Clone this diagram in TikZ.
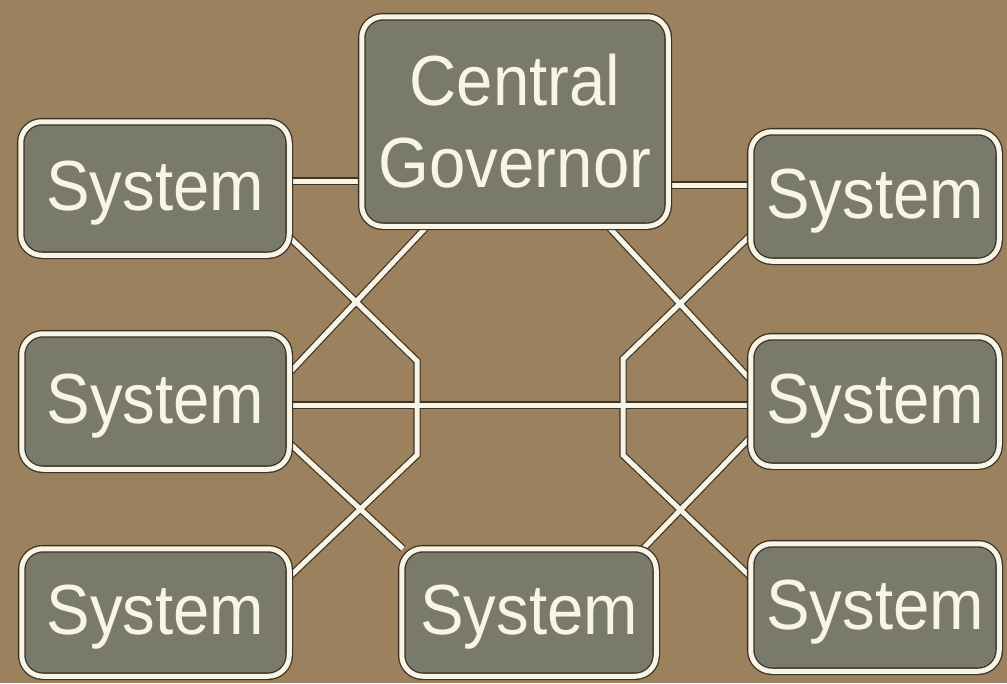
\documentclass[tikz,border=0pt]{standalone}
\usepackage{fontspec}
\setmainfont{Liberation Sans}[FakeStretch=0.92]
\definecolor{bgc}{HTML}{9C815E}
\definecolor{boxc}{HTML}{797A6B}
\definecolor{creamc}{HTML}{F8F4E6}
\definecolor{edgec}{HTML}{3B3325}
\pgfdeclarelayer{bgl}
\pgfdeclarelayer{lines}
\pgfsetlayers{bgl,lines,main}
\newcommand\myconns[1]{%
  \draw[#1] (tl.east |- 0,181) -- (cg.west |- 0,181);
  \draw[#1] (cg.east |- 0,185) -- (tr.west |- 0,185);
  \draw[#1] (ml.east |- 0,405) -- (mr.west |- 0,405);
  \draw[#1] (cg.south -| 427,0) -- (ml.east |- 0,373);
  \draw[#1] (tl.east |- 0,237) -- (l1) -- (l2) -- (bl.east |- 0,577);
  \draw[#1] (ml.east |- 0,443) -- (bc.north -| 403,0);
  \draw[#1] (cg.south -| 608,0) -- (mr.west |- 0,380);
  \draw[#1] (tr.west |- 0,235) -- (r1) -- (r2) -- (br.west |- 0,577);
  \draw[#1] (mr.west |- 0,437) -- (bc.north -| 643,0);
}
\begin{document}
\begin{tikzpicture}[x=1pt,y=-1pt,
  boxbase/.style={rounded corners=21pt, fill=boxc, draw=edgec, line width=1.3pt,
    double=creamc, double distance=5pt, inner sep=0pt, outer sep=0pt,
    text=creamc, font=\fontsize{71}{82}\selectfont, align=center},
  sysbox/.style={boxbase, text height=52pt, text depth=8pt},
  edgepass/.style={draw=edgec, line width=7.4pt, line join=miter},
  whitepass/.style={draw=creamc, line width=5pt, line join=miter}]
\useasboundingbox (0,0) rectangle (1007,683);
\begin{pgfonlayer}{bgl}
  \fill[bgc] (0,0) rectangle (1007,683);
\end{pgfonlayer}
\node[boxbase, minimum width=306.5pt, minimum height=209.5pt] (cg) at (515,121.5) {Central\\Governor};
\node[sysbox, minimum width=268.5pt, minimum height=133.5pt] (tl) at (155,188.5) {System};
\node[sysbox, minimum width=267.5pt, minimum height=135.5pt] (ml) at (155.5,401.5) {System};
\node[sysbox, minimum width=267.5pt, minimum height=127.5pt] (bl) at (155.5,612.5) {System};
\node[sysbox, minimum width=254.5pt, minimum height=127.5pt] (bc) at (529,612.5) {System};
\node[sysbox, minimum width=248.5pt, minimum height=129.5pt] (tr) at (875,196.5) {System};
\node[sysbox, minimum width=248.5pt, minimum height=129.5pt] (mr) at (875,401.5) {System};
\node[sysbox, minimum width=248.5pt, minimum height=127.5pt] (br) at (875,607.5) {System};
\coordinate (l1) at (417,361);
\coordinate (l2) at (417,455);
\coordinate (r1) at (623,359);
\coordinate (r2) at (623,455);
\begin{pgfonlayer}{lines}
  \myconns{edgepass}
  \myconns{whitepass}
\end{pgfonlayer}
\end{tikzpicture}
\end{document}
